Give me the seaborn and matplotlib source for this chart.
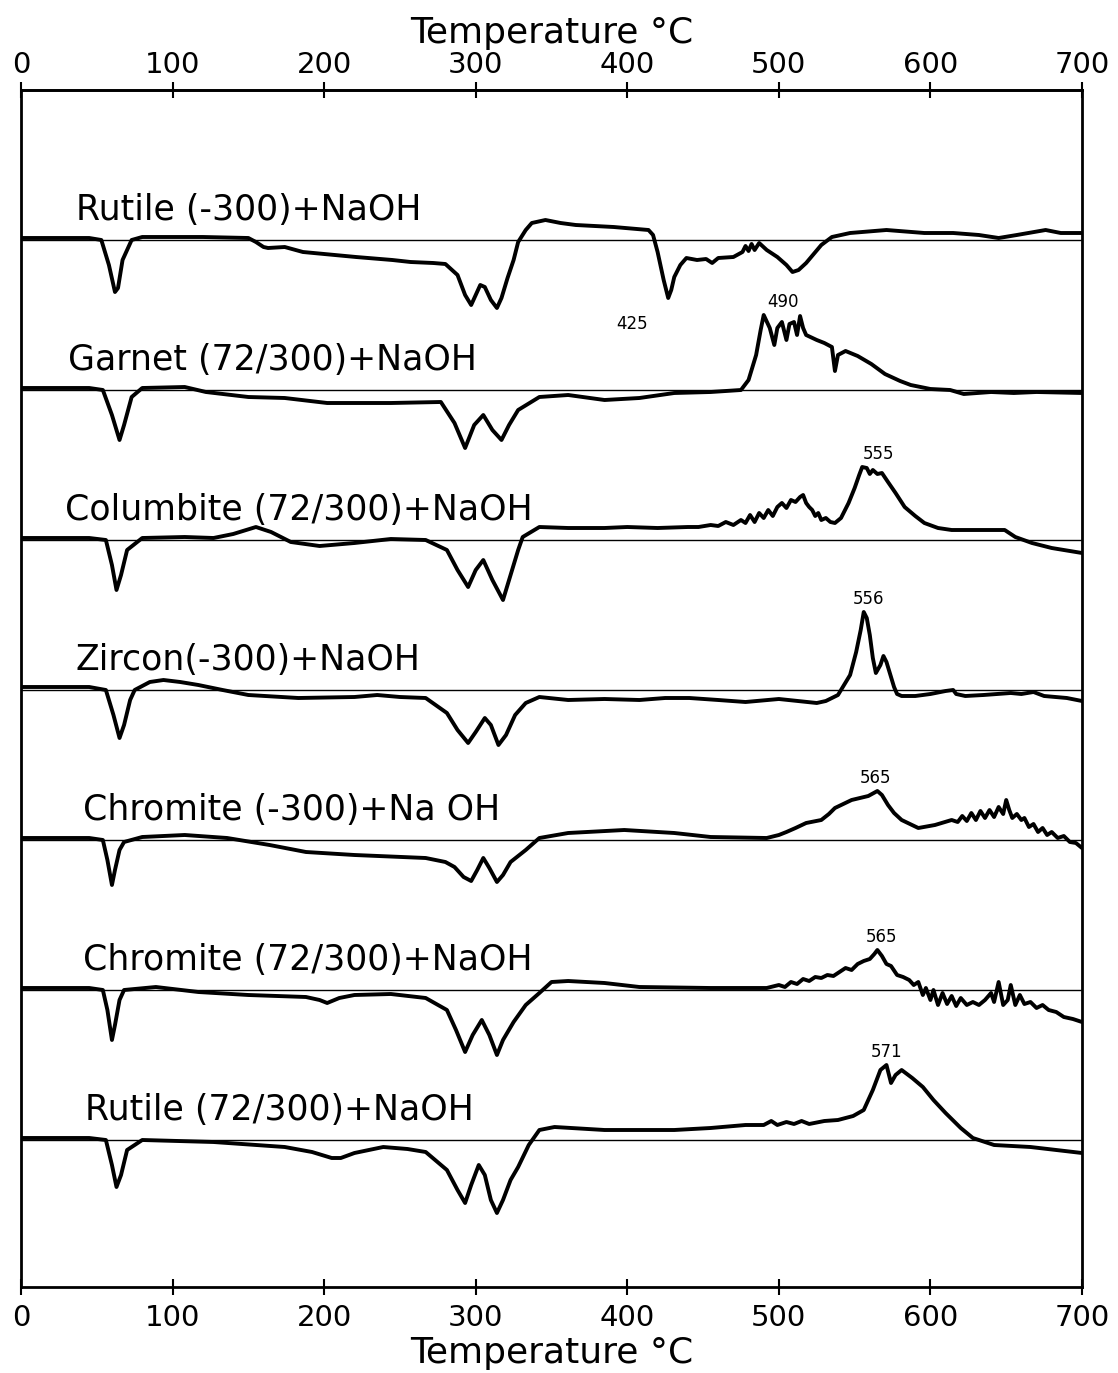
import numpy as np
import pandas as pd
import matplotlib
matplotlib.use("Agg")
import matplotlib.pyplot as plt
import seaborn as sns

sns.set_theme(style="white")
plt.rcParams["font.family"] = ["DejaVu Sans"]
plt.rcParams["text.color"] = "black"
plt.rcParams["axes.labelcolor"] = "black"

# Temperature axis
TEMP_TICKS = [0, 100, 200, 300, 400, 500, 600, 700]
AXIS_LABEL = "Temperature °C"

# DTA traces: (temperature °C, deflection; positive = exothermic)
RUTILE_FINE = [
    (0, 2), (45, 2), (53, 0), (58, -25), (62, -52), (64, -48), (67, -20), (73, 0), (80, 3),
    (120, 3), (150, 2), (155, -2), (160, -7), (163, -8), (174, -7), (186, -12), (200, -14),
    (221, -17), (245, -20), (257, -22), (272, -23), (280, -24), (288, -35), (293, -55),
    (297, -65), (300, -55), (303, -45), (306, -47), (310, -60), (314, -68), (317, -58),
    (321, -38), (325, -20), (328, -2), (333, 10), (337, 17), (346, 20), (356, 17), (366, 15),
    (391, 13), (414, 10), (417, 5), (420, -12), (424, -40), (427, -58), (429, -50), (431, -37),
    (435, -25), (439, -18), (446, -20), (452, -19), (456, -23), (460, -18), (470, -17),
    (476, -12), (478, -6), (480, -11), (482, -4), (484, -10), (487, -3), (492, -10), (499, -17),
    (505, -25), (509, -32), (513, -30), (518, -23), (523, -14), (528, -5), (535, 3), (547, 7),
    (571, 10), (596, 7), (615, 7), (632, 5), (645, 2), (657, 5), (676, 10), (686, 7), (700, 7),
]

GARNET = [
    (0, 2), (45, 2), (54, 0), (60, -25), (65, -50), (68, -35), (73, -7), (80, 2), (108, 3),
    (122, -2), (150, -7), (174, -8), (202, -13), (244, -13), (277, -12), (286, -33), (293, -58),
    (299, -35), (305, -25), (311, -40), (317, -50), (322, -35), (328, -20), (342, -7), (361, -5),
    (385, -10), (408, -8), (431, -3), (455, -2), (475, 0), (480, 10), (485, 35), (488, 60),
    (490, 75), (494, 62), (497, 45), (499, 62), (502, 68), (505, 50), (507, 66), (510, 68),
    (512, 55), (514, 74), (516, 62), (518, 55), (525, 50), (530, 47), (535, 43), (537, 19),
    (539, 35), (544, 39), (552, 34), (561, 26), (570, 16), (580, 9), (587, 5), (600, 1),
    (613, 0), (622, -4), (640, -2), (655, -3), (670, -2), (700, -3),
]

COLUMBITE = [
    (0, 2), (45, 2), (56, 0), (60, -25), (63, -50), (66, -35), (70, -10), (80, 2), (108, 3),
    (127, 2), (140, 6), (155, 13), (165, 8), (178, -2), (197, -6), (220, -3), (244, 1), (267, 0),
    (281, -10), (288, -30), (295, -47), (300, -30), (305, -20), (311, -40), (318, -60),
    (323, -35), (328, -10), (331, 3), (342, 13), (361, 12), (385, 12), (400, 13), (420, 12),
    (440, 13), (447, 13), (455, 15), (460, 14), (465, 18), (470, 15), (475, 20), (478, 17),
    (481, 25), (484, 18), (487, 27), (490, 22), (493, 30), (496, 24), (499, 33), (502, 37),
    (505, 32), (508, 40), (511, 38), (514, 43), (516, 45), (518, 37), (520, 33), (522, 30),
    (524, 24), (526, 27), (528, 20), (531, 22), (534, 18), (537, 17), (541, 22), (546, 37),
    (550, 52), (553, 65), (555, 73), (558, 72), (560, 66), (562, 70), (565, 66), (568, 67),
    (572, 58), (577, 47), (583, 33), (590, 24), (596, 17), (605, 12), (614, 10), (630, 10),
    (649, 10), (656, 3), (667, -3), (680, -8), (700, -13),
]

ZIRCON = [
    (0, 3), (45, 3), (56, 0), (61, -25), (65, -48), (68, -35), (72, -10), (75, 0), (85, 8),
    (94, 10), (105, 8), (117, 5), (133, 0), (150, -5), (183, -8), (220, -7), (235, -5),
    (250, -7), (267, -8), (281, -23), (288, -40), (295, -53), (300, -42), (306, -28), (310, -35),
    (315, -55), (320, -45), (326, -25), (333, -13), (342, -7), (361, -10), (385, -9), (408, -10),
    (425, -8), (441, -8), (460, -10), (478, -12), (500, -9), (525, -13), (531, -11), (539, -5),
    (543, 5), (547, 15), (551, 38), (554, 60), (556, 78), (558, 72), (560, 55), (562, 32),
    (564, 17), (567, 25), (569, 34), (571, 28), (573, 18), (576, 3), (578, -4), (581, -6),
    (590, -6), (600, -4), (610, -1), (615, 0), (617, -4), (623, -6), (635, -5), (653, -3),
    (660, -4), (668, -2), (675, -6), (690, -8), (700, -11),
]

CHROMITE_FINE = [
    (0, 2), (45, 2), (54, 0), (57, -20), (60, -45), (62, -30), (65, -10), (68, -2), (80, 3),
    (108, 5), (136, 2), (164, -5), (188, -12), (220, -15), (267, -18), (280, -22), (286, -27),
    (292, -37), (297, -41), (301, -30), (305, -18), (309, -28), (314, -42), (318, -35),
    (323, -22), (333, -10), (342, 2), (361, 7), (398, 10), (431, 7), (455, 3), (492, 2),
    (500, 5), (505, 8), (511, 12), (518, 17), (528, 20), (533, 26), (537, 32), (548, 40),
    (559, 44), (565, 49), (568, 45), (572, 35), (576, 27), (581, 20), (592, 12), (603, 15),
    (614, 20), (618, 18), (621, 24), (624, 19), (627, 27), (630, 20), (633, 29), (636, 22),
    (639, 30), (642, 23), (645, 33), (648, 26), (650, 40), (652, 30), (654, 22), (657, 26),
    (660, 20), (662, 22), (665, 13), (668, 16), (671, 8), (674, 12), (677, 5), (680, 8),
    (684, 2), (688, 4), (692, -2), (696, -3), (700, -8),
]

CHROMITE_COARSE = [
    (0, 2), (45, 2), (54, 0), (57, -20), (60, -50), (62, -35), (65, -10), (68, 0), (89, 3),
    (117, -2), (150, -5), (188, -7), (197, -10), (202, -13), (210, -8), (220, -5), (244, -4),
    (267, -8), (281, -20), (287, -40), (293, -62), (298, -45), (304, -30), (309, -45),
    (314, -65), (318, -50), (325, -32), (333, -15), (342, -3), (350, 8), (361, 9), (385, 7),
    (408, 3), (455, 2), (492, 2), (500, 5), (504, 3), (508, 8), (512, 6), (516, 11), (520, 9),
    (524, 13), (528, 12), (532, 15), (536, 14), (540, 18), (544, 22), (548, 20), (552, 26),
    (556, 29), (560, 31), (563, 36), (565, 40), (568, 34), (571, 26), (574, 24), (578, 15),
    (582, 13), (586, 10), (589, 5), (592, 8), (595, -5), (597, 2), (600, -10), (602, 0),
    (605, -15), (608, -3), (611, -14), (614, -6), (617, -16), (620, -8), (624, -15), (628, -12),
    (632, -15), (636, -10), (640, -3), (642, -12), (645, 8), (648, -15), (651, -10), (653, 5),
    (656, -15), (659, -5), (662, -14), (666, -12), (670, -18), (674, -15), (678, -20),
    (683, -22), (688, -27), (694, -29), (700, -32),
]

RUTILE_COARSE = [
    (0, 2), (45, 2), (56, 0), (60, -25), (63, -47), (66, -35), (70, -10), (80, 0), (127, -2),
    (174, -7), (192, -12), (205, -18), (211, -18), (220, -13), (239, -7), (255, -9), (267, -12),
    (281, -30), (288, -50), (293, -63), (297, -45), (302, -25), (306, -35), (310, -60),
    (314, -73), (318, -60), (323, -40), (328, -27), (335, -5), (342, 10), (352, 13), (385, 10),
    (431, 10), (455, 12), (478, 15), (490, 15), (495, 19), (499, 15), (505, 18), (510, 16),
    (515, 19), (520, 16), (530, 19), (539, 20), (549, 24), (556, 30), (562, 50), (567, 70),
    (571, 75), (574, 57), (577, 65), (581, 70), (588, 62), (595, 53), (602, 40), (610, 27),
    (620, 12), (628, 2), (642, -5), (666, -7), (700, -13),
]

SAMPLE_NAMES = [
    "Rutile (-300)+NaOH",
    "Garnet (72/300)+NaOH",
    "Columbite (72/300)+NaOH",
    "Zircon(-300)+NaOH",
    "Chromite (-300)+Na OH",
    "Chromite (72/300)+NaOH",
    "Rutile (72/300)+NaOH",
]
TRACES = [RUTILE_FINE, GARNET, COLUMBITE, ZIRCON, CHROMITE_FINE, CHROMITE_COARSE, RUTILE_COARSE]

# Peak temperatures printed on the traces: (trace index, temperature)
PEAK_TEMPS = [(0, 425), (1, 490), (2, 555), (3, 556), (4, 565), (5, 565), (6, 571)]

# ---- layout ----
TOP_BASE = 1047
STEP = 150
YMAX = 1197
NAME_X = [36, 31, 29, 36, 41, 41, 42]
PEAK_LABEL_X = [403, 503, 566, 559, 564, 568, 571]

frames = []
for i, (name, pts) in enumerate(zip(SAMPLE_NAMES, TRACES)):
    t, d = zip(*pts)
    frames.append(pd.DataFrame({
        "temp": t,
        "signal": np.array(d, dtype=float) + TOP_BASE - STEP * i,
        "sample": name,
    }))
df = pd.concat(frames, ignore_index=True)

fig = plt.figure(figsize=(11.18, 13.73), dpi=100)
ax = fig.add_axes([21 / 1118, 86 / 1373, 1061 / 1118, 1197 / 1373])

# Reference baselines
for i in range(len(SAMPLE_NAMES)):
    ax.axhline(TOP_BASE - STEP * i, color="black", lw=1.0, zorder=1)

sns.lineplot(data=df, x="temp", y="signal", units="sample", estimator=None,
             sort=False, color="black", lw=2.8, ax=ax, legend=False,
             solid_joinstyle="round", solid_capstyle="round", zorder=3)

for i, name in enumerate(SAMPLE_NAMES):
    ax.text(NAME_X[i], TOP_BASE - STEP * i + 30, name, fontsize=25,
            ha="left", va="center", color="black")

for (idx, temp), lx in zip(PEAK_TEMPS, PEAK_LABEL_X):
    base = TOP_BASE - STEP * idx
    d = np.array([p[1] for p in TRACES[idx]])
    if idx == 0:
        y = base + d.min() - 16
    else:
        y = base + d.max() + 13
    ax.text(lx, y, str(temp), fontsize=12, ha="center", va="center", color="black")

ax.set_xlim(0, 700)
ax.set_ylim(0, YMAX)
ax.set_yticks([])
ax.set_ylabel("")
ax.set_xticks(TEMP_TICKS)
ax.set_xticklabels([str(v) for v in TEMP_TICKS])
ax.set_xlabel(AXIS_LABEL, fontsize=26, labelpad=3, color="black")
ax.tick_params(axis="x", direction="inout", length=12, width=1.5, labelsize=21,
               pad=6, colors="black", bottom=True)
for s in ax.spines.values():
    s.set_visible(True)
    s.set_color("black")
    s.set_linewidth(2.0)

sec = ax.secondary_xaxis("top")
sec.set_xticks(TEMP_TICKS)
sec.set_xticklabels([str(v) for v in TEMP_TICKS])
sec.set_xlabel(AXIS_LABEL, fontsize=26, labelpad=6, color="black")
sec.tick_params(axis="x", direction="inout", length=12, width=1.5, labelsize=21, pad=2,
                colors="black")
sec.spines["top"].set_linewidth(2.0)

fig.savefig("out.png", dpi=100, facecolor="white")
